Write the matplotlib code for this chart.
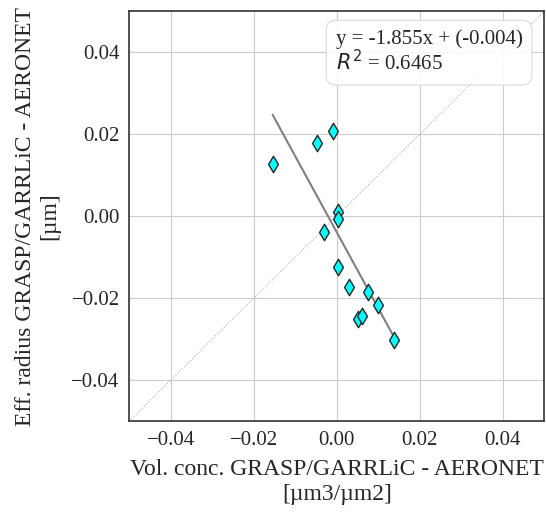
import numpy as np
import matplotlib
matplotlib.use('Agg')
import matplotlib.pyplot as plt
import seaborn as sns

# differences GRASP/GARRLiC - AERONET
vol_diff = [-0.0155, -0.0047, -0.0010, 0.0002, 0.0002, -0.0030, 0.0003,
            0.0029, 0.0075, 0.0100, 0.0051, 0.0060, 0.0137]
reff_diff = [0.0127, 0.0179, 0.0208, 0.0010, -0.0007, -0.0039, -0.0124,
             -0.0174, -0.0185, -0.0217, -0.0251, -0.0243, -0.0302]
slope = -1.855
intercept = -0.004
r2 = 0.6465
lims = [-0.05, 0.05]
ticks = [-0.04, -0.02, 0.00, 0.02, 0.04]

sns.set_style('whitegrid')
plt.rcParams['font.family'] = ['Liberation Serif', 'DejaVu Serif']
plt.rcParams['mathtext.fontset'] = 'dejavusans'

fig = plt.figure(figsize=(5.46, 5.12), dpi=100)
ax = fig.add_axes([0.237, 0.178, 0.76, 0.8])

ax.plot(lims, lims, ls=':', color='#b0b0b0', lw=0.8, zorder=1)
xs = np.array([min(vol_diff), max(vol_diff)])
ax.plot(xs, slope * xs + intercept, color='grey', lw=1.5, zorder=2)
ax.scatter(vol_diff, reff_diff, marker='d', s=70, c='cyan', edgecolors='.15',
           linewidths=1, zorder=3)

ax.text(0.497, 0.955, 'y = %.3fx + (%.3f)\n$R^2$ = %.4f' % (slope, intercept, r2),
        transform=ax.transAxes, ha='left', va='top', fontsize=15, linespacing=1.05,
        bbox=dict(boxstyle='round,pad=0.45', fc='white', ec='#dddddd', alpha=0.9))

ax.set_xlim(lims)
ax.set_ylim(lims)
ax.set_xticks(ticks)
ax.set_yticks(ticks)
ax.tick_params(labelsize=15, colors='.15')
for s in ax.spines.values():
    s.set_edgecolor('.2')
    s.set_linewidth(1.2)
ax.set_xlabel('Vol. conc. GRASP/GARRLiC - AERONET\n[µm3/µm2]', fontsize=17, color='.15',
              labelpad=7)
ax.set_ylabel('Eff. radius GRASP/GARRLiC - AERONET\n[µm]', fontsize=17, color='.15',
              labelpad=8)

fig.savefig('out.png', dpi=100)
